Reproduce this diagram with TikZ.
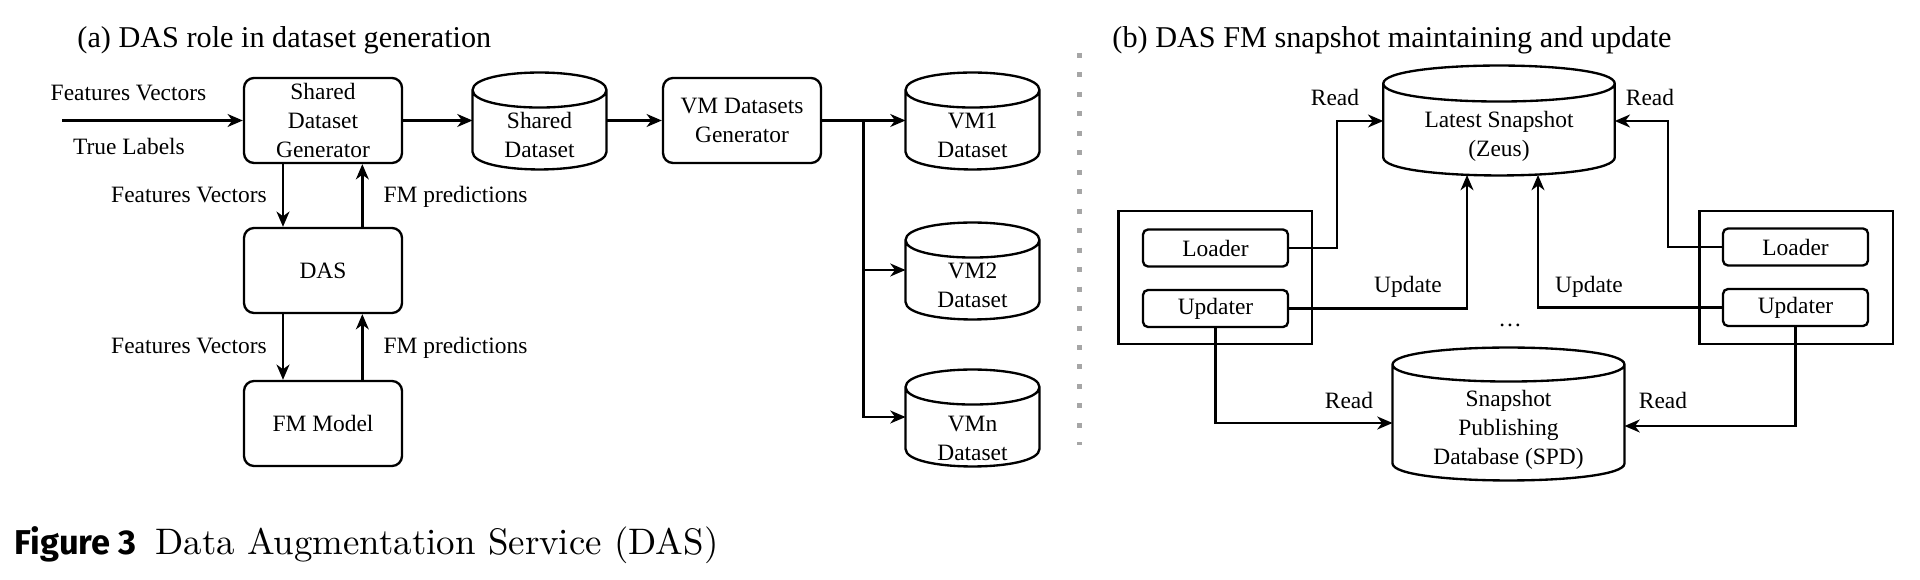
\documentclass[tikz,border=0pt]{standalone}
\usepackage{fontspec}
\usepackage{graphicx}
\newfontfamily\dfont{Liberation Serif}
\newfontfamily\capsans{Fira Sans}
\usetikzlibrary{arrows.meta,calc}

\definecolor{sepgrey}{HTML}{A6A6A6}

% cylinder outline round a named node: node, ellipse radius, text drop
\newcommand\dbshape[3]{%
  \draw[wire]
    ($(#1.north west)+(0,#3-#2)$) -- ($(#1.south west)+(0,#3+#2)$)
    .. controls ($(#1.south west)+(0,#3-#2/3)$) and ($(#1.south east)+(0,#3-#2/3)$) .. ($(#1.south east)+(0,#3+#2)$)
    -- ($(#1.north east)+(0,#3-#2)$)
    .. controls ($(#1.north east)+(0,#3+#2/3)$) and ($(#1.north west)+(0,#3+#2/3)$) .. cycle
    ($(#1.north west)+(0,#3-#2)$)
    .. controls ($(#1.north west)+(0,#3-7*#2/3)$) and ($(#1.north east)+(0,#3-7*#2/3)$) .. ($(#1.north east)+(0,#3-#2)$);
}

\tikzset{
  wire/.style={line width=1pt},
  arr/.style={wire, -{Stealth[length=6.5pt,width=5.5pt,inset=2pt]}},
  txt/.style={font=\dfont\fontsize{10}{12.4}\selectfont},
  block/.style={txt, draw, wire, rounded corners=0.15cm, minimum width=2.37cm, minimum height=1.275cm, align=center, inner sep=0pt},
  db/.style={txt, minimum width=1.995cm, minimum height=1.44cm, align=center, inner sep=0pt},
  unit/.style={txt, draw, wire, rounded corners=0.075cm, minimum width=2.175cm, minimum height=0.555cm, inner sep=0pt},
  host/.style={draw, wire, minimum width=2.9cm, minimum height=1.995cm},
  lbl/.style={txt, anchor=base, inner sep=0pt},
  ttl/.style={font=\dfont\fontsize{12.9}{15}\selectfont, anchor=west, inner sep=0pt}
}

\begin{document}
\begin{tikzpicture}[x=0.015cm, y=0.015cm]
  \useasboundingbox (0,0) rectangle (1920,-580);

  % (a) dataset generation
  \node[ttl] (ttla) at (77,-40) {(a) DAS role in dataset generation};

  \coordinate (in) at (62,-120.5);
  \node[block] (sdg) at (323,-120.5) {Shared\\Dataset\\Generator};
  \node[db] (sd) at (539.5,-135) {Shared\\Dataset};
  \node[block] (vmg) at (742,-120.5) {VM Datasets\\Generator};
  \node[db] (vm1) at (972.5,-135) {VM1\\Dataset};
  \node[db] (vm2) at (972.5,-285) {VM2\\Dataset};
  \node[db] (vmn) at (972.5,-438) {VMn\\Dataset};
  \node[block] (das) at (323,-270.5) {DAS};
  \node[block] (fm) at (323,-423.5) {FM Model};
  \coordinate (split) at (863.6,-120.5);

  \dbshape{sd}{17.5}{14}
  \dbshape{vm1}{17.5}{14}
  \dbshape{vm2}{17.5}{14}
  \dbshape{vmn}{17.5}{20}

  \draw[arr] (in) -- (sdg.west);
  \node[lbl] (fvin) at (128.5,-101) {Features Vectors};
  \node[lbl] (tlin) at (129,-155) {True Labels};

  \draw[arr] (sdg.east) -- (sdg.east -| sd.west);
  \draw[arr] (sd.east |- vmg.west) -- (vmg.west);
  \draw[arr] (vmg.east) -- (vmg.east -| vm1.west);
  \draw[arr] (split) |- (vm2.west |- 0,-270);
  \draw[arr] (split) |- (vmn.west |- 0,-417);

  \draw[arr] ([xshift=-0.6cm]sdg.south) -- ([xshift=-0.6cm]das.north);
  \draw[arr] ([xshift=0.59cm]das.north) -- ([xshift=0.59cm]sdg.south);
  \draw[arr] ([xshift=-0.6cm]das.south) -- ([xshift=-0.6cm]fm.north);
  \draw[arr] ([xshift=0.59cm]fm.north) -- ([xshift=0.59cm]das.south);
  \node[lbl] (fv1) at (189,-203) {Features Vectors};
  \node[lbl] (fmp1) at (455.5,-203) {FM predictions};
  \node[lbl] (fv2) at (189,-354) {Features Vectors};
  \node[lbl] (fmp2) at (455.5,-354) {FM predictions};

  % separator
  \draw[sepgrey, line width=0.075cm, dash pattern=on 0.075cm off 0.217cm] (1079,-53) -- (1079,-445);

  % (b) snapshot maintaining
  \node[ttl] (ttlb) at (1112,-40) {(b) DAS FM snapshot maintaining and update};

  \node[db, minimum width=3.4575cm, minimum height=1.635cm] (zeus) at (1499,-136.5) {Latest Snapshot\\(Zeus)};
  \node[host] (lhost) at (1215,-277.5) {};
  \node[unit] (lload) at (1215.5,-248) {Loader};
  \node[unit] (lupd) at (1215.5,-308.5) {Updater};
  \node[host] (rhost) at (1796,-277.5) {};
  \node[unit] (rload) at (1795.5,-247) {Loader};
  \node[unit] (rupd) at (1795.5,-307.5) {Updater};
  \node[db, minimum width=3.465cm, minimum height=1.98cm] (spd) at (1508.5,-430) {Snapshot\\Publishing\\Database (SPD)};
  \node[lbl] (dots) at (1510,-327) {\ldots};

  \dbshape{zeus}{18}{16}
  \dbshape{spd}{17}{16}

  \draw[arr] (lload.east) -- ++(48,0) |- (zeus.west |- 0,-121);
  \draw[arr] (rload.west) -- ++(-54,0) |- (zeus.east |- 0,-121);
  \draw[arr] (lupd.east) -| ($(zeus.south)+(-32,16.5)$);
  \draw[arr] (rupd.west) -| ($(zeus.south)+(39,16.5)$);
  \draw[arr] (lupd.south) |- (spd.west |- 0,-423);
  \draw[arr] (rupd.south) |- (spd.east |- 0,-426);

  \node[lbl] (rd1) at (1335,-106) {Read};
  \node[lbl] (rd2) at (1650,-106) {Read};
  \node[lbl] (up1) at (1408,-293) {Update};
  \node[lbl] (up2) at (1589,-293) {Update};
  \node[lbl] (rd3) at (1349,-409) {Read};
  \node[lbl] (rd4) at (1663,-409) {Read};

  % caption
  \node[anchor=base west, inner sep=0pt] (fig) at (14.5,-555) {\capsans\bfseries\fontsize{14.7}{17}\selectfont Figure 3};
  \node[anchor=base west, inner sep=0pt] (cap) at (155,-555) {\scalebox{1.575}{\fontsize{10}{12}\selectfont Data Augmentation Service (DAS)}};
\end{tikzpicture}
\end{document}
